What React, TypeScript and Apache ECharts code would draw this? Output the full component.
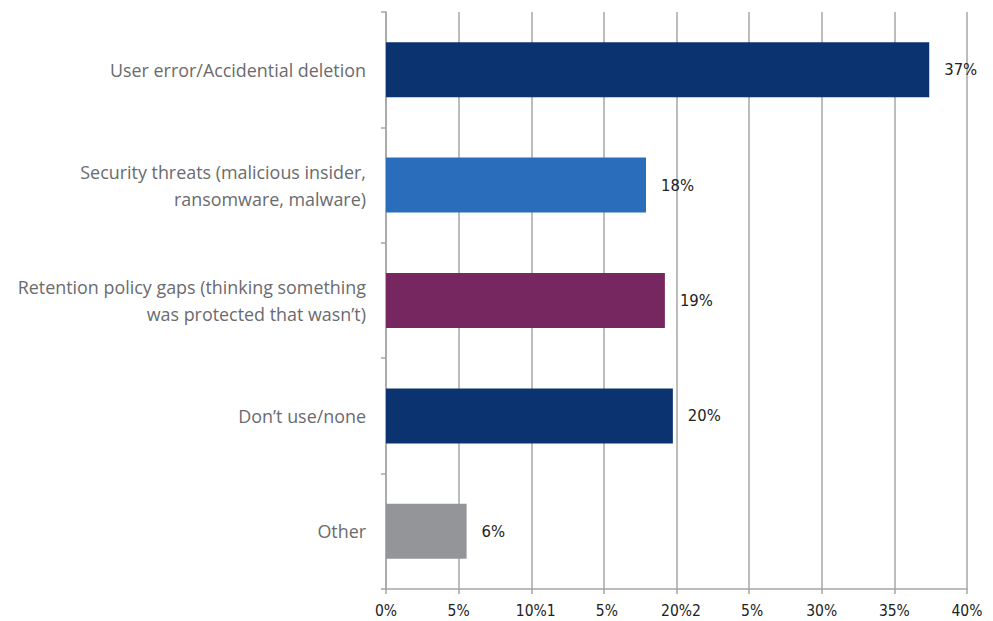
import React, { useEffect, useRef } from "react";
import * as echarts from "echarts";

const categories = [
  "User error/Accidential deletion",
  "Security threats (malicious insider,\nransomware, malware)",
  "Retention policy gaps (thinking something\nwas protected that wasn\u2019t)",
  "Don\u2019t use/none",
  "Other",
];
const values = [37.4, 17.9, 19.2, 19.75, 5.55];
const valueLabels = ["37%", "18%", "19%", "20%", "6%"];
const barColors = ["#0b3370", "#2a6ebb", "#76275f", "#0b3370", "#939598"];
const tickLabels = ["0%", "5%", "10%1", "5%", "20%2", "5%", "30%", "35%", "40%"];

export default function App() {
  const ref = useRef<HTMLDivElement>(null);
  useEffect(() => {
    if (!ref.current) return;
    const chart = echarts.init(ref.current, undefined, { renderer: "svg" });
    const tickFont = "'DejaVu Sans Condensed', 'DejaVu Sans', sans-serif";
    chart.setOption({
      animation: false,
      grid: { left: 386, right: 26, top: 12, bottom: 32, containLabel: false },
      xAxis: {
        type: "value",
        min: 0,
        max: 40,
        interval: 5,
        axisLine: { show: true, lineStyle: { color: "#a6a6a6", width: 1.5 } },
        axisTick: { show: true, length: 5, lineStyle: { color: "#a6a6a6", width: 1.5 } },
        splitLine: { show: true, lineStyle: { color: "#a6a6a6", width: 1.5 } },
        axisLabel: {
          margin: 14,
          color: "#222222",
          fontSize: 15.5,
          fontFamily: tickFont,
          formatter: (v: number) => {
            const t = tickLabels[Math.round(v / 5)] ?? "";
            if (t.length === 4) return "{x|" + t + "}";
            if (t === "5%" && v !== 5) return "{y|" + t + "}";
            return t;
          },
          rich: {
            x: { padding: [0, 0, 0, 9], fontSize: 15.5, color: "#222222", fontFamily: tickFont },
            y: { padding: [0, 0, 0, 6], fontSize: 15.5, color: "#222222", fontFamily: tickFont },
          },
        },
      },
      yAxis: {
        type: "category",
        data: categories,
        inverse: true,
        axisLine: { show: true, lineStyle: { color: "#a6a6a6", width: 1.5 } },
        axisTick: { show: true, length: 5, alignWithLabel: false, lineStyle: { color: "#a6a6a6", width: 1.5 } },
        splitLine: { show: false },
        axisLabel: {
          margin: 20,
          color: "#6a6b6e",
          fontSize: 17.9,
          lineHeight: 27,
          fontFamily: "'Open Sans', 'Noto Sans', sans-serif",
          align: "right",
        },
      },
      series: [
        {
          type: "bar",
          barWidth: 55,
          data: values.map((v, i) => ({ value: v, itemStyle: { color: barColors[i] } })),
          label: {
            show: true,
            position: "right",
            distance: 15,
            color: "#222222",
            fontSize: 16.5,
            fontFamily: tickFont,
            formatter: (p: any) => valueLabels[p.dataIndex],
          },
        },
      ],
    });
    return () => chart.dispose();
  }, []);
  return (
    <div
      ref={ref}
      style={{ position: "fixed", left: 0, top: 0, width: 993, height: 621, background: "#ffffff" }}
    />
  );
}
